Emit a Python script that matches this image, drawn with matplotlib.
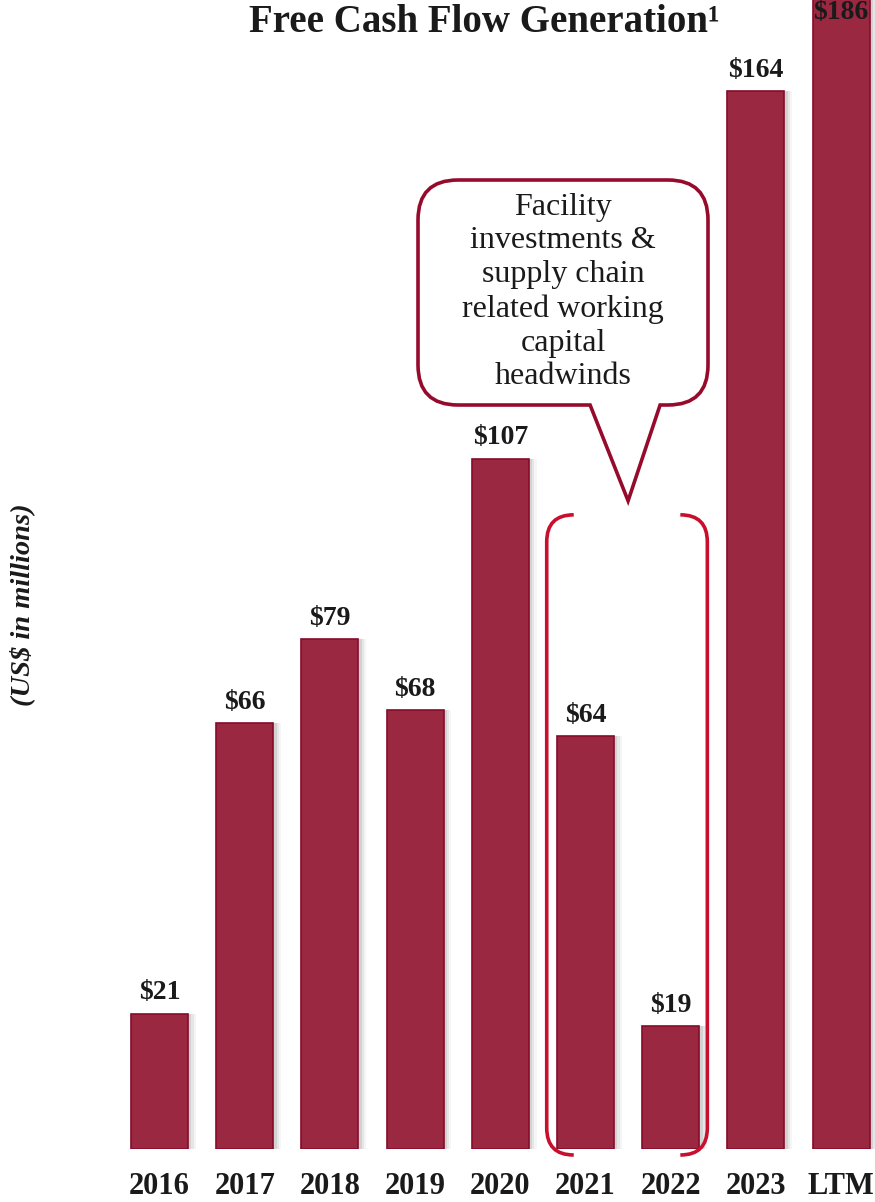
import matplotlib
matplotlib.use("Agg")
import matplotlib.pyplot as plt
from matplotlib.path import Path
from matplotlib.patches import PathPatch
from matplotlib.transforms import IdentityTransform
import numpy as np

# data
categories = ["2016", "2017", "2018", "2019", "2020", "2021", "2022", "2023", "LTM"]
fcf = [21, 66, 79, 68, 107, 64, 19, 164, 186]
value_labels = ["$21", "$66", "$79", "$68", "$107", "$64", "$19", "$164", "$186"]
callout_text = "Facility\ninvestments &\nsupply chain\nrelated working\ncapital\nheadwinds"
highlight = (5, 6)  # 2021 and 2022

BAR = "#9a2840"
EDGE = "#860a2a"
DARK = "#960b2c"
BRACKET = "#c8102e"
SERIF = ["Liberation Serif", "DejaVu Serif"]

W, H, DPI = 875, 1202, 100
fig = plt.figure(figsize=(W / DPI, H / DPI), dpi=DPI)
ax = fig.add_axes([0, 53 / H, 1, 1149 / H])
x = np.arange(len(categories))
ymax = 178.1
ax.set_xlim(-1.872, 8.398)
ax.set_ylim(0, ymax)
ax.axis("off")

# soft shadow to the right of each bar
for k, a in [(0.09, 0.07), (0.065, 0.12), (0.04, 0.18)]:
    ax.bar(x + k, fcf, width=0.67, color="#7a7a7a", alpha=a, linewidth=0, zorder=1)
ax.bar(x, fcf, width=0.67, color=BAR, edgecolor=EDGE, linewidth=1.2, zorder=2)
ax.hlines(np.full(len(x), -0.35), x - 0.36, x + 0.45, color="#c9c9c9", lw=1.5, zorder=1)

for xi, v, lab in zip(x, fcf, value_labels):
    if v + 3 < ymax:
        ax.annotate(lab, (xi, v), xytext=(0, 6), textcoords="offset points",
                    ha="center", va="bottom", fontsize=20, fontweight="bold",
                    family=SERIF, color="#1a1a1a")
    else:
        ax.annotate(lab, (xi, ymax), xytext=(0, 0), textcoords="offset points",
                    ha="center", va="top", fontsize=20, fontweight="bold",
                    family=SERIF, color="#1a1a1a", annotation_clip=False)

for xi, c in zip(x, categories):
    ax.annotate(c, (xi, 0), xytext=(0, -27), textcoords="offset points",
                ha="center", va="center", fontsize=22, fontweight="bold",
                family=SERIF, color="#1a1a1a", annotation_clip=False)

fig.canvas.draw()
to_px = ax.transData.transform

# rounded bracket around 2021-2022
i0, i1 = highlight
xl, yb = to_px((i0 - 0.455, 0))
xr, _ = to_px((i1 + 0.43, 0))
_, yt = to_px((0, 98.3))
yb -= 6
r = 27
for side in (1, -1):
    xe = xl if side == 1 else xr
    verts = [(xe + side * r, yt), (xe, yt), (xe, yt - r),
             (xe, yb + r), (xe, yb), (xe + side * r, yb)]
    codes = [Path.MOVETO, Path.CURVE3, Path.CURVE3, Path.LINETO, Path.CURVE3, Path.CURVE3]
    fig.add_artist(PathPatch(Path(verts, codes), fill=False, edgecolor=BRACKET,
                             lw=2.6, transform=IdentityTransform()))

# speech-bubble callout
tipx = (to_px((i0, 0))[0] + to_px((i1, 0))[0]) / 2
tipy = yt + 14
bl, br, bt, bb = 418, 708, H - 180, H - 405
rr = 40
tl, tr = tipx - 38, tipx + 32
verts = [(bl + rr, bt), (br - rr, bt), (br, bt), (br, bt - rr),
         (br, bb + rr), (br, bb), (br - rr, bb),
         (tr, bb), (tipx, tipy), (tl, bb),
         (bl + rr, bb), (bl, bb), (bl, bb + rr),
         (bl, bt - rr), (bl, bt), (bl + rr, bt)]
codes = [Path.MOVETO, Path.LINETO, Path.CURVE3, Path.CURVE3,
         Path.LINETO, Path.CURVE3, Path.CURVE3,
         Path.LINETO, Path.LINETO, Path.LINETO,
         Path.LINETO, Path.CURVE3, Path.CURVE3,
         Path.LINETO, Path.CURVE3, Path.CURVE3]
fig.add_artist(PathPatch(Path(verts, codes), facecolor="white", edgecolor=DARK,
                         lw=2.6, joinstyle="miter", transform=IdentityTransform()))
fig.text(563 / W, 1 - 292 / H, callout_text, ha="center", va="center",
         fontsize=23, family=SERIF, color="#1a1a1a", linespacing=1.22)

fig.text(484 / W, 1 - 22 / H, "Free Cash Flow Generation¹", ha="center", va="center",
         fontsize=28, fontweight="bold", family=SERIF, color="#1a1a1a")
fig.text(22 / W, 1 - 605 / H, "(US$ in millions)", ha="center", va="center",
         rotation=90, fontsize=20.5, fontweight="bold", fontstyle="italic",
         family=SERIF, color="#1a1a1a")

fig.savefig("out.png", dpi=DPI)
